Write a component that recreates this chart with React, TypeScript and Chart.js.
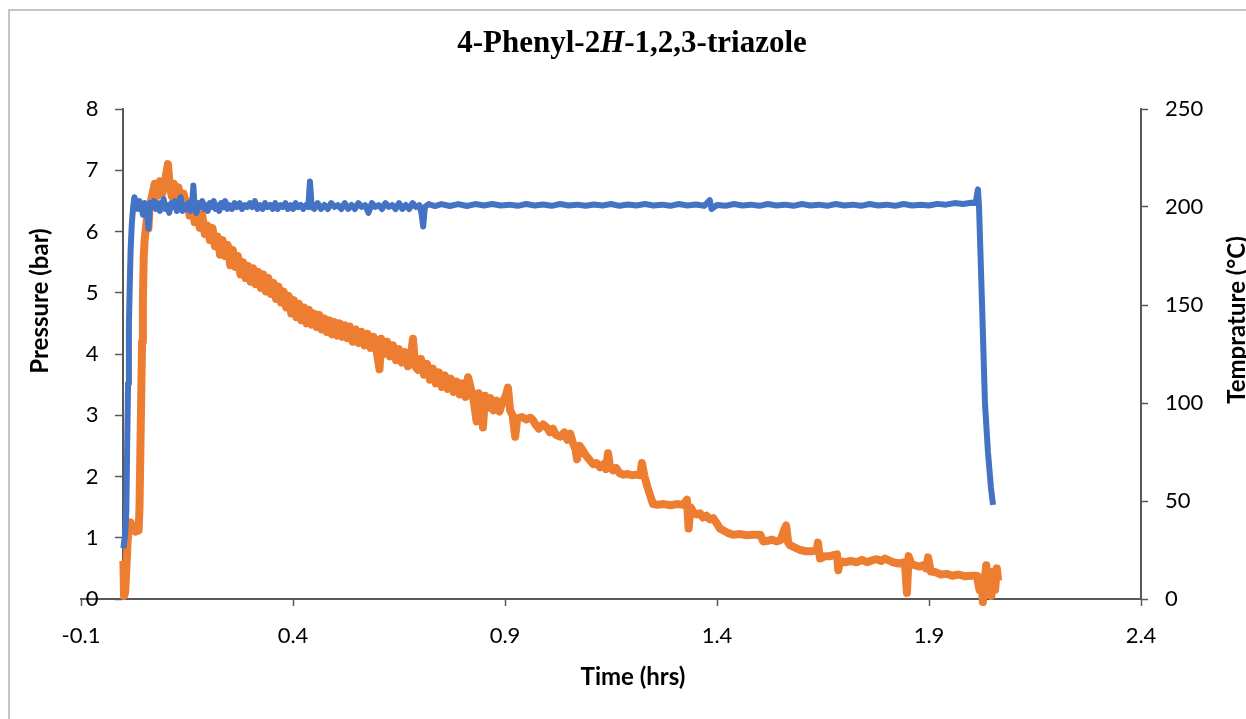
import React, { useEffect, useRef } from "react";
import { Chart, registerables, LinearScale } from "chart.js";

// Linear scale whose tick labels keep a gap from an axis line placed inside the plot
class ShiftedLinearScale extends (LinearScale as any) {
  static id = "shiftedLinear";
  static defaults = (LinearScale as any).defaults;
  _computeLabelItems(chartArea: any) {
    const items = (LinearScale.prototype as any)._computeLabelItems.call(this, chartArea);
    const opts: any = (this as any).options;
    const shift = (opts.ticks.padding || 0) + (opts.grid.tickLength || 0);
    items.forEach((it: any) => {
      const tr = it.options.translation;
      it.options.translation = [tr[0] - shift, tr[1]];
    });
    return items;
  }
}

Chart.register(...registerables, ShiftedLinearScale as any);

// ---------- text ----------
const TITLE_PARTS = [
  { text: "4-Phenyl-2", italic: false },
  { text: "H", italic: true },
  { text: "-1,2,3-triazole", italic: false },
];
const X_TITLE = "Time (hrs)";
const Y_LEFT_TITLE = "Pressure (bar)";
const Y_RIGHT_TITLE = "Temprature (°C)";

// ---------- ticks ----------
const X_TICKS = [-0.1, 0.4, 0.9, 1.4, 1.9, 2.4];
const X_MIN = -0.1;
const X_MAX = 2.4;
const P_MIN = 0;
const P_MAX = 8;
const P_STEP = 1;
const T_MIN = 0;
const T_MAX = 250;
const T_STEP = 50;

// ---------- temperature series (blue, right axis) ----------
const TEMP_TIME = [
  0.0, 0.004, 0.007, 0.009, 0.011, 0.013, 0.015, 0.017, 0.02, 0.023, 0.026, 0.03, 0.034, 0.038, 0.042,
  0.046, 0.05, 0.055, 0.059, 0.063, 0.068, 0.072, 0.077, 0.082, 0.086, 0.09, 0.095, 0.099, 0.104, 0.108,
  0.113, 0.117, 0.122, 0.126, 0.131, 0.135, 0.139, 0.144, 0.148, 0.153, 0.157, 0.162, 0.165, 0.168, 0.172,
  0.177, 0.181, 0.186, 0.19, 0.195, 0.199, 0.204, 0.208, 0.213, 0.217, 0.222, 0.226, 0.231, 0.236, 0.24,
  0.245, 0.25, 0.256, 0.262, 0.268, 0.274, 0.28, 0.286, 0.292, 0.298, 0.304, 0.31, 0.316, 0.322, 0.328,
  0.334, 0.34, 0.346, 0.352, 0.358, 0.364, 0.37, 0.376, 0.382, 0.388, 0.394, 0.4, 0.406, 0.412, 0.418,
  0.424, 0.43, 0.436, 0.44, 0.444, 0.45, 0.458, 0.466, 0.474, 0.482, 0.49, 0.498, 0.506, 0.514, 0.522,
  0.53, 0.538, 0.546, 0.554, 0.562, 0.57, 0.578, 0.586, 0.594, 0.602, 0.61, 0.618, 0.626, 0.634, 0.642,
  0.65, 0.658, 0.666, 0.674, 0.682, 0.69, 0.698, 0.703, 0.707, 0.711, 0.72, 0.735, 0.75, 0.77, 0.79,
  0.81, 0.83, 0.85, 0.87, 0.89, 0.91, 0.93, 0.95, 0.97, 0.99, 1.01, 1.03, 1.05, 1.07, 1.09,
  1.11, 1.13, 1.15, 1.17, 1.19, 1.21, 1.23, 1.25, 1.27, 1.29, 1.31, 1.33, 1.35, 1.37, 1.383,
  1.387, 1.4, 1.42, 1.44, 1.46, 1.48, 1.5, 1.52, 1.54, 1.56, 1.58, 1.6, 1.62, 1.64, 1.66,
  1.68, 1.7, 1.72, 1.74, 1.76, 1.78, 1.8, 1.82, 1.84, 1.86, 1.88, 1.9, 1.92, 1.94, 1.96,
  1.98, 2.0, 2.01, 2.0155, 2.018, 2.025, 2.032, 2.039, 2.046, 2.051,
];
const TEMP_C = [
  26, 33, 45, 80, 110, 140, 160, 178, 192, 200, 205, 202, 199, 203, 201,
  196, 202, 200, 189, 202, 200, 203, 199, 202, 198, 201, 204, 199, 201, 197,
  202, 200, 203, 198, 201, 205, 198, 201, 199, 202, 198, 201, 211, 200, 197,
  202, 200, 203, 199, 201, 198, 202, 200, 203, 199, 201, 198, 202, 200, 203,
  199, 201, 199, 202, 200, 202, 199, 201, 200, 202, 200, 203, 199, 201, 199,
  202, 200, 201, 199, 202, 199, 201, 200, 202, 199, 201, 199, 202, 200, 201,
  199, 201, 200, 213, 200, 199, 202, 199, 201, 199, 202, 200, 201, 199, 202,
  199, 201, 199, 202, 200, 201, 197, 202, 200, 201, 199, 202, 200, 201, 199,
  202, 199, 201, 199, 202, 200, 201, 197, 190, 200, 201.5, 200.5, 201.5, 200.5, 201.5,
  200.5, 201.5, 200.8, 201.5, 200.8, 201.2, 200.6, 201.5, 200.8, 201.3, 200.6, 201.5, 200.8, 201.2, 200.6,
  201.3, 200.8, 201.5, 200.6, 201.3, 200.8, 201.5, 200.8, 201.2, 200.6, 201.5, 200.8, 201.3, 200.6, 203.5,
  199, 201, 200.6, 201.5, 200.8, 201.2, 200.6, 201.5, 200.8, 201.2, 200.6, 201.5, 200.8, 201.2, 200.6,
  201.5, 200.8, 201.2, 200.6, 201.5, 200.8, 201.2, 200.6, 201.5, 200.8, 201.2, 200.8, 201.6, 201.2, 202,
  201.5, 202.2, 202, 209, 200, 151, 100, 75, 57, 48,
];

// ---------- pressure series (orange, left axis) ----------
const PRESSURE_TIME = [
  0.0, 0.0015, 0.004, 0.007, 0.01, 0.013, 0.017, 0.021, 0.025, 0.029, 0.033, 0.036, 0.038, 0.04, 0.042,
  0.044, 0.046, 0.048, 0.05, 0.053, 0.056, 0.059, 0.062, 0.068, 0.074, 0.08, 0.086, 0.092, 0.098, 0.105,
  0.109, 0.114, 0.119, 0.125, 0.13, 0.136, 0.142, 0.148,
  0.15, 0.156, 0.162, 0.168, 0.174, 0.18, 0.186, 0.192, 0.198, 0.204, 0.21, 0.216, 0.222, 0.228, 0.234,
  0.24, 0.246, 0.252, 0.258, 0.264, 0.27, 0.276, 0.282, 0.288, 0.294, 0.3,
  0.306, 0.312, 0.318, 0.324, 0.33, 0.336, 0.342, 0.348, 0.354, 0.36, 0.366, 0.372, 0.378, 0.384, 0.39,
  0.396, 0.402, 0.408, 0.414, 0.42, 0.426, 0.432, 0.438, 0.444, 0.45, 0.456, 0.462, 0.468, 0.474, 0.48,
  0.486, 0.492, 0.498, 0.504, 0.51, 0.516, 0.522, 0.528, 0.534,
  0.541, 0.548, 0.555, 0.562, 0.569, 0.576, 0.583, 0.59, 0.597, 0.604, 0.608, 0.615, 0.622, 0.629, 0.636,
  0.643, 0.65, 0.657, 0.664, 0.671, 0.678, 0.683, 0.688, 0.695, 0.702, 0.709, 0.716, 0.723, 0.73, 0.737,
  0.744, 0.751, 0.758, 0.765, 0.772, 0.779, 0.786, 0.793, 0.8, 0.807, 0.813, 0.82, 0.826, 0.833, 0.838,
  0.843, 0.848, 0.853, 0.86, 0.866, 0.873, 0.88, 0.887, 0.894, 0.901, 0.907, 0.912, 0.918, 0.924, 0.929,
  0.94, 0.95, 0.96, 0.966, 0.972, 0.98, 0.99, 0.999, 1.006, 1.013, 1.02, 1.03,
  1.04, 1.047, 1.054, 1.06, 1.066, 1.07, 1.076, 1.084, 1.09, 1.096, 1.102, 1.108, 1.116, 1.124, 1.132,
  1.138, 1.143, 1.148, 1.155, 1.162, 1.171, 1.18, 1.19, 1.2, 1.21, 1.219, 1.223, 1.229, 1.235, 1.242,
  1.249, 1.26, 1.275, 1.29, 1.305, 1.32, 1.329, 1.333, 1.338, 1.344, 1.352, 1.36, 1.367, 1.375, 1.383,
  1.391, 1.398, 1.407, 1.415, 1.425, 1.438, 1.455, 1.47, 1.485, 1.502, 1.509, 1.52, 1.53, 1.54, 1.55,
  1.557, 1.563, 1.568, 1.572, 1.584, 1.596, 1.61, 1.626, 1.635, 1.638, 1.643, 1.655, 1.667, 1.677, 1.683,
  1.686, 1.69, 1.702, 1.715, 1.73, 1.742, 1.754, 1.765, 1.777, 1.787, 1.796, 1.805, 1.815, 1.828, 1.843,
  1.848, 1.852, 1.858, 1.867, 1.878, 1.886, 1.893, 1.898, 1.904, 1.915, 1.928, 1.942, 1.955, 1.97, 1.985,
  2.0, 2.013, 2.019, 2.024, 2.027, 2.031, 2.035, 2.039, 2.043, 2.047, 2.052, 2.056, 2.06, 2.063,
];
const PRESSURE_BAR = [
  0.62, 0.05, 0.1, 0.5, 0.95, 1.2, 1.25, 1.12, 1.2, 1.1, 1.18, 1.12, 1.5, 2.4, 3.3,
  4.2, 4.9, 5.6, 5.85, 6.05, 6.25, 6.05, 6.4, 6.6, 6.78, 6.58, 6.82, 6.62, 6.82, 7.1,
  6.78, 6.58, 6.78, 6.52, 6.72, 6.48, 6.62, 6.42,
  6.5, 6.26, 6.45, 6.15, 6.36, 6.06, 6.27, 5.96, 6.1, 5.86, 6.06, 5.76, 5.92, 5.62, 5.86,
  5.6, 5.78, 5.45, 5.7, 5.42, 5.6, 5.3, 5.5, 5.24, 5.44, 5.18,
  5.4, 5.14, 5.34, 5.08, 5.3, 5.02, 5.24, 4.98, 5.16, 4.9, 5.1, 4.84, 5.02, 4.76, 4.95,
  4.66, 4.88, 4.6, 4.82, 4.55, 4.76, 4.5, 4.72, 4.48, 4.66, 4.44, 4.64, 4.4, 4.58, 4.36,
  4.55, 4.32, 4.52, 4.3, 4.5, 4.28, 4.47, 4.26, 4.45,
  4.2, 4.4, 4.18, 4.36, 4.14, 4.33, 4.1, 4.28, 4.06, 3.75, 4.25, 4.0, 4.2, 3.96, 4.14,
  3.9, 4.08, 3.86, 4.03, 3.8, 3.98, 4.25, 3.8, 3.74, 3.92, 3.66, 3.84, 3.58, 3.76, 3.52,
  3.7, 3.46, 3.65, 3.43, 3.6, 3.38, 3.55, 3.34, 3.52, 3.3, 3.62, 3.42, 3.25, 2.9, 3.36,
  3.18, 2.8, 3.32, 3.12, 3.28, 3.08, 3.24, 3.06, 3.22, 3.3, 3.45, 3.08, 3.0, 2.65, 2.95,
  2.97, 2.93, 2.96, 2.92, 2.85, 2.78, 2.85, 2.8, 2.72, 2.78, 2.68, 2.65,
  2.72, 2.6, 2.7, 2.55, 2.45, 2.28, 2.5, 2.42, 2.35, 2.3, 2.25, 2.2, 2.22, 2.15, 2.2,
  2.12, 2.38, 2.15, 2.1, 2.14, 2.05, 2.03, 2.04, 2.02, 2.03, 2.02, 2.22, 2.0, 1.85, 1.7,
  1.55, 1.54, 1.55, 1.53, 1.55, 1.54, 1.62, 1.15, 1.5, 1.42, 1.38, 1.4, 1.33, 1.36, 1.3,
  1.32, 1.25, 1.15, 1.12, 1.08, 1.05, 1.06, 1.04, 1.05, 1.05, 0.94, 0.95, 0.97, 0.94, 0.96,
  1.1, 1.2, 0.92, 0.88, 0.84, 0.8, 0.78, 0.78, 0.8, 0.92, 0.66, 0.7, 0.7, 0.72, 0.73,
  0.47, 0.62, 0.6, 0.62, 0.6, 0.64, 0.6, 0.63, 0.65, 0.62, 0.66, 0.63, 0.6, 0.58, 0.6,
  0.1, 0.7, 0.57, 0.55, 0.53, 0.55, 0.5, 0.68, 0.45, 0.44, 0.4, 0.41, 0.38, 0.4, 0.37,
  0.38, 0.38, 0.15, 0.35, -0.05, 0.3, 0.55, 0.12, 0.4, 0.05, 0.45, 0.15, 0.5, 0.3,
];

const BLUE = "#4472C4";
const ORANGE = "#ED7D31";
const AXIS_COLOR = "#595959";
const TICK_FONT = { family: "Lato, 'Liberation Sans', sans-serif", size: 22 };
const AXIS_TITLE_FONT = "bold 24px Lato, 'Liberation Sans', sans-serif";

const decorPlugin = {
  id: "decor",
  beforeDraw(chart: any) {
    const { ctx, width, height } = chart;
    ctx.save();
    ctx.fillStyle = "#ffffff";
    ctx.fillRect(0, 0, width, height);
    ctx.strokeStyle = "#b4b4b4";
    ctx.lineWidth = 1.5;
    ctx.beginPath();
    ctx.moveTo(9, height);
    ctx.lineTo(9, 10);
    ctx.lineTo(width, 10);
    ctx.stroke();
    ctx.restore();
  },
  afterDraw(chart: any) {
    const { ctx } = chart;
    ctx.save();
    ctx.fillStyle = "#000000";
    const fonts = TITLE_PARTS.map((p) =>
      p.italic ? "italic bold 31px 'Liberation Serif', serif" : "bold 31px 'Liberation Serif', serif"
    );
    let total = 0;
    const widths = TITLE_PARTS.map((p, i) => {
      ctx.font = fonts[i];
      const w = ctx.measureText(p.text).width;
      total += w;
      return w;
    });
    let x = 632 - total / 2;
    ctx.textBaseline = "alphabetic";
    ctx.textAlign = "left";
    TITLE_PARTS.forEach((p, i) => {
      ctx.font = fonts[i];
      ctx.fillText(p.text, x, 52);
      x += widths[i];
    });
    ctx.font = AXIS_TITLE_FONT;
    ctx.textAlign = "center";
    ctx.textBaseline = "middle";
    ctx.fillText(X_TITLE, 633, 677);
    ctx.save();
    ctx.translate(40, 301);
    ctx.rotate(-Math.PI / 2);
    ctx.fillText(Y_LEFT_TITLE, 0, 0);
    ctx.restore();
    ctx.save();
    ctx.translate(1237, 320);
    ctx.rotate(-Math.PI / 2);
    ctx.fillText(Y_RIGHT_TITLE, 0, 0);
    ctx.restore();
    ctx.restore();
  },
};

export default function App() {
  const canvasRef = useRef<HTMLCanvasElement | null>(null);

  useEffect(() => {
    document.body.style.margin = "0";
    const canvas = canvasRef.current;
    if (!canvas) return;

    const pressureData = PRESSURE_TIME.map((t, i) => ({ x: t, y: PRESSURE_BAR[i] }));
    const tempData = TEMP_TIME.map((t, i) => ({ x: t, y: TEMP_C[i] }));

    const axisGrid = {
      drawOnChartArea: false,
      drawTicks: true,
      tickLength: 7,
      color: AXIS_COLOR,
      tickWidth: 1.5,
    };

    const chart = new Chart(canvas, {
      type: "line",
      data: {
        datasets: [
          {
            label: "Temperature",
            data: tempData,
            yAxisID: "yT",
            borderColor: BLUE,
            backgroundColor: BLUE,
            borderWidth: 6,
            pointRadius: 0,
            tension: 0,
            borderJoinStyle: "round",
            order: 0,
            clip: 10,
          },
          {
            label: "Pressure",
            data: pressureData,
            yAxisID: "yP",
            borderColor: ORANGE,
            backgroundColor: ORANGE,
            borderWidth: 8,
            pointRadius: 0,
            tension: 0,
            borderJoinStyle: "round",
            order: 1,
            clip: 10,
          },
        ],
      },
      options: {
        responsive: false,
        animation: false,
        devicePixelRatio: 1,
        layout: { padding: { left: 81, top: 109, right: 0, bottom: 0 } },
        plugins: {
          legend: { display: false },
          tooltip: { enabled: false },
          title: { display: false },
        },
        scales: {
          x: {
            type: "linear",
            position: "bottom",
            min: X_MIN,
            max: X_MAX,
            afterBuildTicks: (scale: any) => {
              scale.ticks = X_TICKS.map((v) => ({ value: v }));
            },
            afterFit: (scale: any) => {
              scale.height = 120;
            },
            grid: axisGrid,
            border: { display: true, color: AXIS_COLOR, width: 2 },
            ticks: {
              color: "#000",
              font: TICK_FONT,
              padding: 17,
              maxRotation: 0,
              autoSkip: false,
              callback: (v: any) => Number(v).toFixed(1),
            },
          },
          yP: {
            type: "shiftedLinear",
            position: { x: 0 } as any,
            axis: "y",
            min: P_MIN,
            max: P_MAX,
            grid: axisGrid,
            border: { display: true, color: AXIS_COLOR, width: 2 },
            ticks: {
              stepSize: P_STEP,
              color: "#000",
              font: TICK_FONT,
              padding: 18,
            },
          },
          yT: {
            type: "linear",
            position: "right",
            min: T_MIN,
            max: T_MAX,
            afterFit: (scale: any) => {
              scale.width = 105;
            },
            grid: axisGrid,
            border: { display: true, color: AXIS_COLOR, width: 2 },
            ticks: {
              stepSize: T_STEP,
              color: "#000",
              font: TICK_FONT,
              padding: 17,
            },
          },
        },
      },
      plugins: [decorPlugin],
    } as any);

    return () => {
      chart.destroy();
    };
  }, []);

  return (
    <div style={{ width: 1246, height: 719 }}>
      <canvas ref={canvasRef} width={1246} height={719} style={{ display: "block" }} />
    </div>
  );
}
